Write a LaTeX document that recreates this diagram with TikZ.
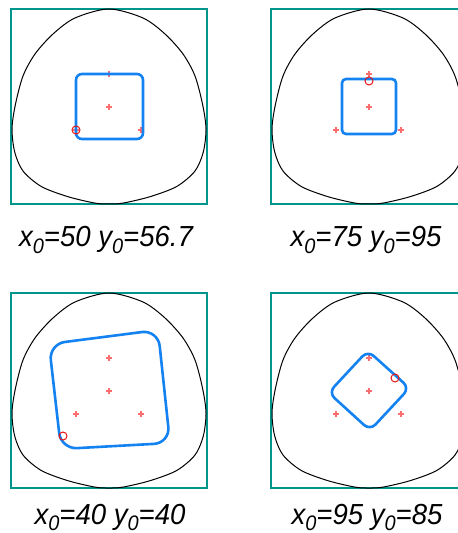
\documentclass[tikz,border=0pt]{standalone}
\usepackage{fontspec}
\setmainfont{Liberation Sans}
\usepackage{graphicx}
\definecolor{boxteal}{RGB}{0,150,140}
\definecolor{lvlblue}{RGB}{20,130,240}
\definecolor{mkpink}{RGB}{255,110,110}
\definecolor{circred}{RGB}{230,20,20}
\newcommand{\lbsub}[1]{\raisebox{-0.22em}{\fontsize{10.5}{10}\selectfont #1}}
\newcommand{\lbtext}[2]{\scalebox{0.95}[1]{\itshape x\lbsub{0}=#1 y\lbsub{0}=#2}}
\tikzset{
  boxline/.style={draw=boxteal, line width=1.2pt},
  outline/.style={draw=black, line width=0.5pt},
  lvl/.style={draw=lvlblue, line width=1.3pt},
  hitcircle/.style={draw=circred, line width=0.5pt},
  lbl/.style={anchor=base, inner sep=0pt, font=\fontsize{14.5}{16}\selectfont},
  ptmark/.pic={
    \fill[mkpink] (0,0) circle (1.8);
    \draw[mkpink, line width=0.7pt] (-2.6,0) -- (2.6,0) (0,-2.6) -- (0,2.6);
  }
}
\newcommand{\panelbase}{%
  \draw[boxline] (0,0) rectangle (196,195);
  \draw[outline] plot[smooth cycle] coordinates {
    (98,0) (132,9) (154,25) (172,45) (184,67) (191.7,96) (195,120) (192.3,143)
    (184,162) (165.7,177.5) (139,187.7) (112,194.1) (98,195) (84,194.1) (57,187.7)
    (30.3,177.5) (12,162) (3.7,143) (1,120) (4.3,96) (12,67) (24,45) (42,25) (64,9)};
  \foreach \q in {(98,98),(98,65),(65,121),(130,121)} \pic at \q {ptmark};
}
\begin{document}
\begin{tikzpicture}[x=0.5pt,y=-0.5pt]
\useasboundingbox (0,0) rectangle (458,533);
\clip (0,0) rectangle (458,533);
% top-left panel
\begin{scope}[shift={(11,9)}]
  \panelbase
  \draw[lvl, rounded corners=3pt] (65,65) rectangle (132,130);
  \draw[hitcircle] (65,121) circle (4);
\end{scope}
% top-right panel
\begin{scope}[shift={(271,9)}]
  \panelbase
  \draw[lvl, rounded corners=2pt] (71,70) rectangle (125,125);
  \draw[hitcircle] (98,72) circle (4);
\end{scope}
% bottom-left panel
\begin{scope}[shift={(11,293)}]
  \panelbase
  \draw[lvl, rounded corners=8pt] (38,51) -- (147,37) -- (159,150) -- (50,156) -- cycle;
  \draw[hitcircle] (52,143) circle (4);
\end{scope}
% bottom-right panel
\begin{scope}[shift={(271,293)}]
  \panelbase
  \draw[lvl, rounded corners=4pt] (96.7,57.6) -- (138.4,95) -- (99,137.4) -- (57.6,99.7) -- cycle;
  \draw[hitcircle] (124,85) circle (4);
\end{scope}
% labels
\node[lbl] (labA) at (106,247) {\lbtext{50}{56.7}};
\node[lbl] (labB) at (366,247) {\lbtext{75}{95}};
\node[lbl] (labC) at (110,524) {\lbtext{40}{40}};
\node[lbl] (labD) at (367,524) {\lbtext{95}{85}};
\end{tikzpicture}
\end{document}
